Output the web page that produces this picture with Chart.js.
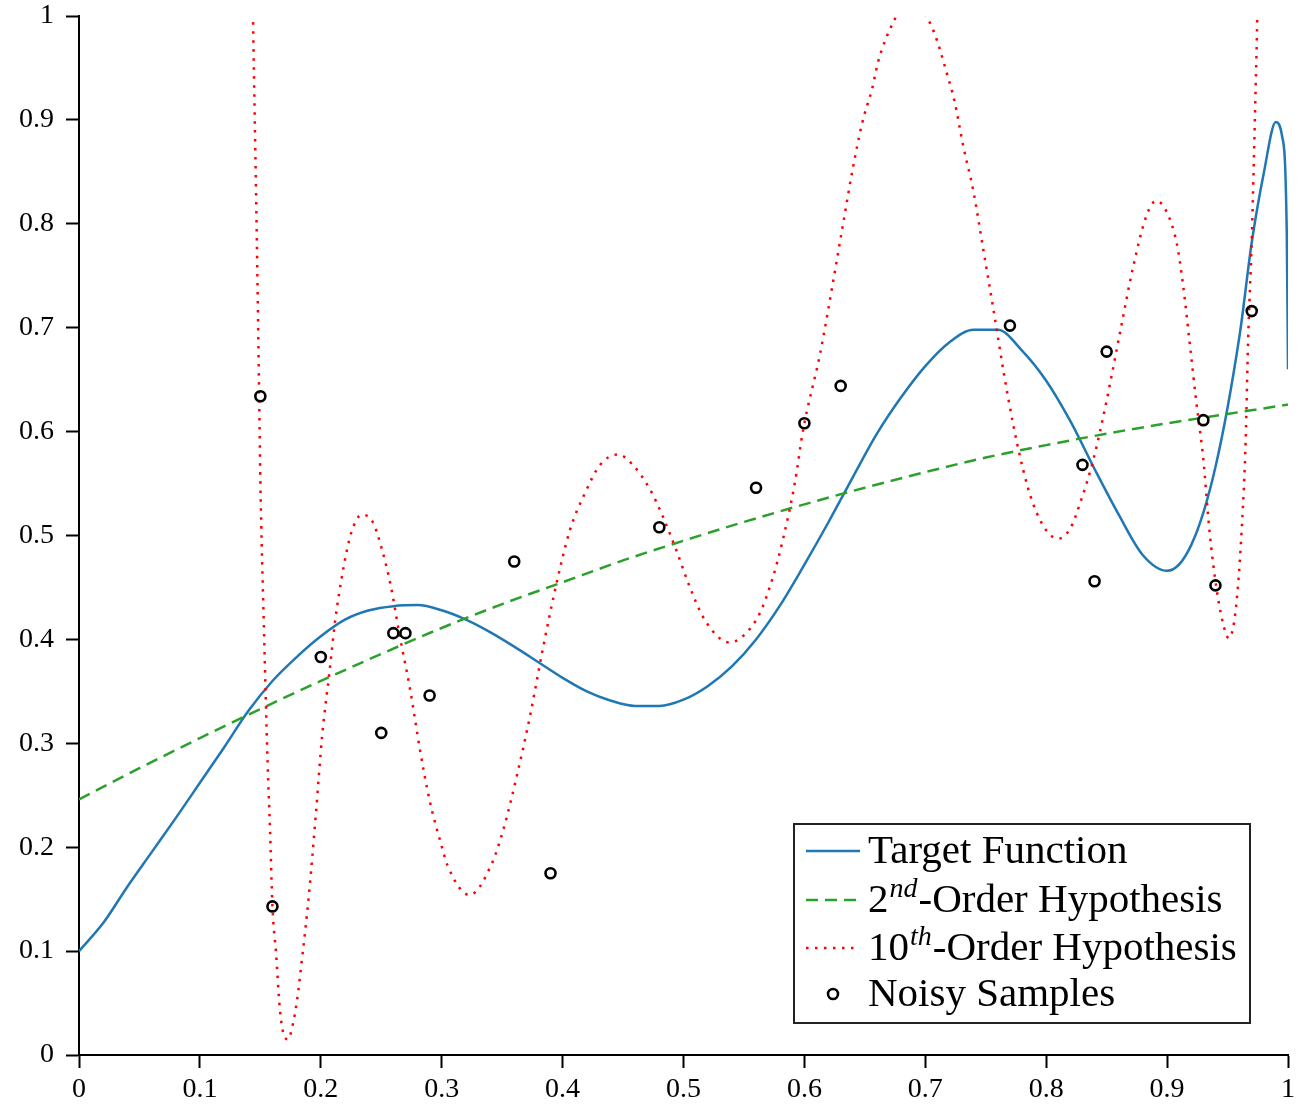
<!DOCTYPE html>
<html>
<head>
<meta charset="utf-8">
<script src="https://cdn.jsdelivr.net/npm/chart.js@4.4.0/dist/chart.umd.min.js"></script>
<style>
    html, body { margin: 0; padding: 0; background: #fff; }
    #wrap { width: 1309px; height: 1104px; }
</style>
</head>
<body>
<div id="wrap"><canvas id="fitChart" width="1309" height="1104"></canvas></div>
<script>
// tick values and labels
const xTicks = [0, 0.1, 0.2, 0.3, 0.4, 0.5, 0.6, 0.7, 0.8, 0.9, 1];
const xTickLabels = ["0", "0.1", "0.2", "0.3", "0.4", "0.5", "0.6", "0.7", "0.8", "0.9", "1"];
const yTicks = [0, 0.1, 0.2, 0.3, 0.4, 0.5, 0.6, 0.7, 0.8, 0.9, 1];
const yTickLabels = ["0", "0.1", "0.2", "0.3", "0.4", "0.5", "0.6", "0.7", "0.8", "0.9", "1"];

// target function
const targetX = [0, 0.02, 0.04, 0.06, 0.08, 0.1, 0.12, 0.14, 0.16, 0.18, 0.2, 0.22, 0.24, 0.26, 0.28,
    0.3, 0.32, 0.34, 0.36, 0.38, 0.4, 0.42, 0.44, 0.46, 0.48, 0.5, 0.52, 0.54, 0.56, 0.58,
    0.6, 0.62, 0.64, 0.66, 0.68, 0.7, 0.72, 0.74, 0.76, 0.78, 0.8, 0.82, 0.84, 0.86, 0.88,
    0.9, 0.92, 0.94, 0.96, 0.97, 0.98, 0.99, 0.995, 0.999, 1];
const targetY = [0.100, 0.127, 0.162, 0.195, 0.228, 0.262, 0.296, 0.331, 0.360, 0.383, 0.403, 0.419, 0.428, 0.432, 0.433,
    0.428, 0.419, 0.407, 0.393, 0.378, 0.363, 0.350, 0.341, 0.336, 0.336, 0.342, 0.355, 0.374, 0.400, 0.433,
    0.472, 0.513, 0.556, 0.598, 0.633, 0.663, 0.686, 0.698, 0.698, 0.678, 0.649, 0.610, 0.564, 0.520, 0.481,
    0.466, 0.491, 0.566, 0.693, 0.782, 0.849, 0.898, 0.885, 0.790, 0.660];

// 2nd order fit
const quadX = [0, 0.05, 0.1, 0.15, 0.2, 0.25, 0.3, 0.35, 0.4, 0.45, 0.5, 0.55, 0.6, 0.65, 0.7, 0.75, 0.8, 0.85, 0.9, 0.95, 1];
const quadY = [0.246, 0.276, 0.305, 0.333, 0.360, 0.386, 0.411, 0.434, 0.455, 0.476, 0.495, 0.513, 0.530, 0.546,
    0.561, 0.575, 0.587, 0.598, 0.608, 0.617, 0.626];

// 10th order fit (goes off the top at both ends and near 0.69)
const tenthX = [0.142, 0.144, 0.147, 0.149, 0.150, 0.153, 0.156, 0.158, 0.160, 0.163, 0.166, 0.169, 0.173, 0.176, 0.180,
    0.185, 0.190, 0.196, 0.201, 0.207, 0.212, 0.218, 0.225, 0.234, 0.243, 0.250, 0.258, 0.265, 0.274, 0.282,
    0.290, 0.299, 0.305, 0.323, 0.341, 0.351, 0.362, 0.373, 0.384, 0.395, 0.406, 0.419, 0.431, 0.446, 0.458,
    0.472, 0.483, 0.494, 0.505, 0.516, 0.530, 0.538, 0.549, 0.563, 0.574, 0.582, 0.592, 0.599, 0.613, 0.624,
    0.632, 0.640, 0.648, 0.656, 0.661, 0.668, 0.674, 0.688, 0.701, 0.707, 0.712, 0.718, 0.724, 0.731, 0.740,
    0.748, 0.756, 0.765, 0.773, 0.781, 0.789, 0.800, 0.810, 0.820, 0.828, 0.839, 0.850, 0.861, 0.872, 0.883,
    0.891, 0.899, 0.908, 0.913, 0.919, 0.924, 0.930, 0.935, 0.941, 0.947, 0.951, 0.957, 0.962, 0.965, 0.967,
    0.970, 0.973, 0.9745, 0.977];
const tenthY = [1.15, 0.994, 0.791, 0.634, 0.553, 0.409, 0.281, 0.217, 0.143, 0.098, 0.046, 0.021, 0.015, 0.025, 0.050,
    0.098, 0.152, 0.233, 0.306, 0.367, 0.419, 0.464, 0.502, 0.520, 0.513, 0.489, 0.451, 0.405, 0.351, 0.294,
    0.245, 0.205, 0.182, 0.154, 0.183, 0.217, 0.268, 0.326, 0.393, 0.454, 0.505, 0.542, 0.568, 0.578, 0.568,
    0.545, 0.518, 0.486, 0.451, 0.422, 0.401, 0.397, 0.403, 0.425, 0.460, 0.495, 0.550, 0.602, 0.675, 0.746,
    0.800, 0.853, 0.898, 0.930, 0.956, 0.980, 0.995, 1.025, 1.000, 0.985, 0.968, 0.944, 0.919, 0.877, 0.830,
    0.775, 0.720, 0.656, 0.605, 0.563, 0.531, 0.505, 0.497, 0.507, 0.531, 0.573, 0.630, 0.695, 0.759, 0.808,
    0.822, 0.813, 0.781, 0.743, 0.682, 0.630, 0.573, 0.505, 0.448, 0.412, 0.401, 0.431, 0.512, 0.592, 0.688,
    0.784, 0.920, 0.995, 1.2];

// noisy samples
const sampleX = [0.15, 0.16, 0.2, 0.25, 0.26, 0.27, 0.29, 0.36, 0.39, 0.48, 0.56, 0.6, 0.63, 0.77, 0.83, 0.84, 0.85, 0.93, 0.94, 0.97];
const sampleY = [0.634, 0.143, 0.383, 0.310, 0.406, 0.406, 0.346, 0.475, 0.175, 0.508, 0.546, 0.608, 0.644, 0.702,
    0.568, 0.456, 0.677, 0.611, 0.452, 0.716];

const legendRows = [
    { text: "Target Function" },
    { text: "2", sup: "nd", rest: "-Order Hypothesis" },
    { text: "10", sup: "th", rest: "-Order Hypothesis" },
    { text: "Noisy Samples" }
];

const toPoints = (xs, ys) => xs.map((x, i) => ({ x: x, y: ys[i] }));

const serif = "'Liberation Serif', 'Times New Roman', serif";

// legend box drawn in the lower right of the plot (needs superscripts)
const boxLegend = {
    id: "boxLegend",
    afterDatasetsDraw(chart) {
        const { ctx, chartArea } = chart;
        const w = 456, h = 199;
        const left = chartArea.right - 38 - w;
        const top = chartArea.bottom - 32 - h;

        ctx.save();
        ctx.fillStyle = "#fff";
        ctx.fillRect(left, top, w, h);
        ctx.strokeStyle = "#222";
        ctx.lineWidth = 2;
        ctx.strokeRect(left, top, w, h);

        const rowY = [27, 76, 124, 170];
        const datasets = chart.data.datasets;
        legendRows.forEach((row, i) => {
            const ds = datasets[i];
            const cy = top + rowY[i];
            if (ds.showLine === false) {
                ctx.beginPath();
                ctx.arc(left + 39, cy, ds.pointRadius, 0, Math.PI * 2);
                ctx.setLineDash([]);
                ctx.lineWidth = ds.pointBorderWidth;
                ctx.strokeStyle = ds.pointBorderColor;
                ctx.stroke();
            } else {
                ctx.beginPath();
                ctx.setLineDash(ds.borderDash || []);
                ctx.lineWidth = ds.borderWidth;
                ctx.strokeStyle = ds.borderColor;
                ctx.moveTo(left + 12, cy);
                ctx.lineTo(left + 66, cy);
                ctx.stroke();
            }
            ctx.setLineDash([]);

            let tx = left + 74;
            const base = cy + 12;
            ctx.fillStyle = "#000";
            ctx.textBaseline = "alphabetic";
            ctx.textAlign = "left";
            ctx.font = "41px " + serif;
            ctx.fillText(row.text, tx, base);
            tx += ctx.measureText(row.text).width;
            if (row.sup) {
                ctx.font = "italic 28px " + serif;
                ctx.fillText(row.sup, tx + 1, base - 15);
                tx += ctx.measureText(row.sup).width + 2;
                ctx.font = "41px " + serif;
                ctx.fillText(row.rest, tx, base);
            }
        });
        ctx.restore();
    }
};

new Chart(document.getElementById("fitChart"), {
    type: "line",
    data: {
        datasets: [
            {
                label: "Target Function",
                data: toPoints(targetX, targetY),
                borderColor: "#1f77b4",
                borderWidth: 2.5,
                pointRadius: 0,
                cubicInterpolationMode: "monotone",
                order: 3
            },
            {
                label: "2nd-Order Hypothesis",
                data: toPoints(quadX, quadY),
                borderColor: "#2ca02c",
                borderWidth: 2.5,
                borderDash: [12, 7],
                pointRadius: 0,
                cubicInterpolationMode: "monotone",
                order: 2
            },
            {
                label: "10th-Order Hypothesis",
                data: toPoints(tenthX, tenthY),
                borderColor: "#ff0000",
                borderWidth: 2.5,
                borderDash: [2.5, 6.5],
                pointRadius: 0,
                cubicInterpolationMode: "monotone",
                order: 1
            },
            {
                label: "Noisy Samples",
                data: toPoints(sampleX, sampleY),
                showLine: false,
                pointRadius: 5,
                pointBorderWidth: 2.6,
                pointBorderColor: "#000",
                pointBackgroundColor: "rgba(255,255,255,0)",
                order: 0
            }
        ]
    },
    options: {
        responsive: false,
        animation: false,
        events: [],
        layout: { padding: { top: 16, right: 21, left: 0, bottom: 0 } },
        plugins: {
            legend: { display: false },
            tooltip: { enabled: false }
        },
        scales: {
            x: {
                type: "linear",
                min: 0,
                max: 1,
                afterBuildTicks: s => { s.ticks = xTicks.map(v => ({ value: v })); },
                afterFit: s => {
                    s.height = 49;
                    s.paddingLeft = 0;
                    s.paddingRight = 0;
                },
                ticks: {
                    autoSkip: false,
                    maxRotation: 0,
                    padding: 5,
                    color: "#000",
                    font: { family: serif, size: 28 },
                    callback: (v, i) => xTickLabels[i]
                },
                grid: { drawOnChartArea: false, tickLength: 13, tickWidth: 2, tickColor: "#000" },
                border: { color: "#000", width: 2 }
            },
            y: {
                min: 0,
                max: 1,
                afterBuildTicks: s => { s.ticks = yTicks.map(v => ({ value: v })); },
                afterFit: s => {
                    s.width = 79;
                    s.paddingTop = 0;
                    s.paddingBottom = 0;
                },
                ticks: {
                    autoSkip: false,
                    padding: 12,
                    color: "#000",
                    font: { family: serif, size: 28 },
                    callback: (v, i) => yTickLabels[i]
                },
                grid: { drawOnChartArea: false, tickLength: 13, tickWidth: 2, tickColor: "#000" },
                border: { color: "#000", width: 2 }
            }
        }
    },
    plugins: [boxLegend]
});
</script>
</body>
</html>
